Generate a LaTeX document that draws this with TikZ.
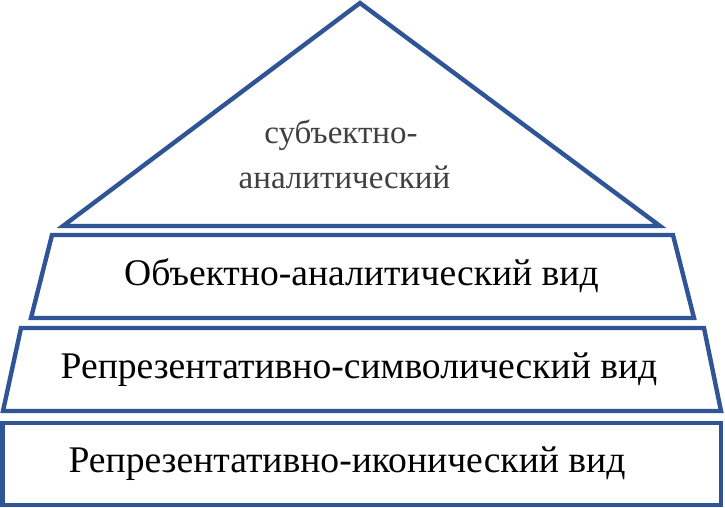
\documentclass[tikz,border=0pt]{standalone}
\usepackage{fontspec}
\setmainfont{Liberation Serif}
\definecolor{pyrblue}{RGB}{47,85,151}
\definecolor{toptext}{RGB}{64,64,64}
\begin{document}
\begin{tikzpicture}[x=1pt,y=-1pt,
  level/.style={draw=pyrblue,line width=4.4pt,line join=miter,fill=white},
  maintext/.style={anchor=base,inner sep=0pt,font=\fontsize{37.6}{40}\selectfont,text=black},
  apextext/.style={anchor=base,inner sep=0pt,font=\fontsize{33}{36}\selectfont,text=toptext}]
\useasboundingbox (0,0) rectangle (725,508);
% apex triangle
\draw[level] (360,3) -- (660,226) -- (63,226) -- cycle;
% upper trapezoid
\draw[level] (52,235) -- (673,235) -- (694,318) -- (31,318) -- cycle;
% middle trapezoid
\draw[level] (21,328) -- (704,328) -- (721,411) -- (3,411) -- cycle;
% base rectangle
\draw[level] (2.5,423) rectangle (721,505);
% texts
\node[apextext] (t1) at (341,143) {субъектно-};
\node[apextext] (t2) at (344.5,188) {аналитический};
\node[maintext] (l1) at (361.5,285) {Объектно-аналитический вид};
\node[maintext] (l2) at (359,378) {Репрезентативно-символический вид};
\node[maintext] (l3) at (347,472) {Репрезентативно-иконический вид};
\end{tikzpicture}
\end{document}
